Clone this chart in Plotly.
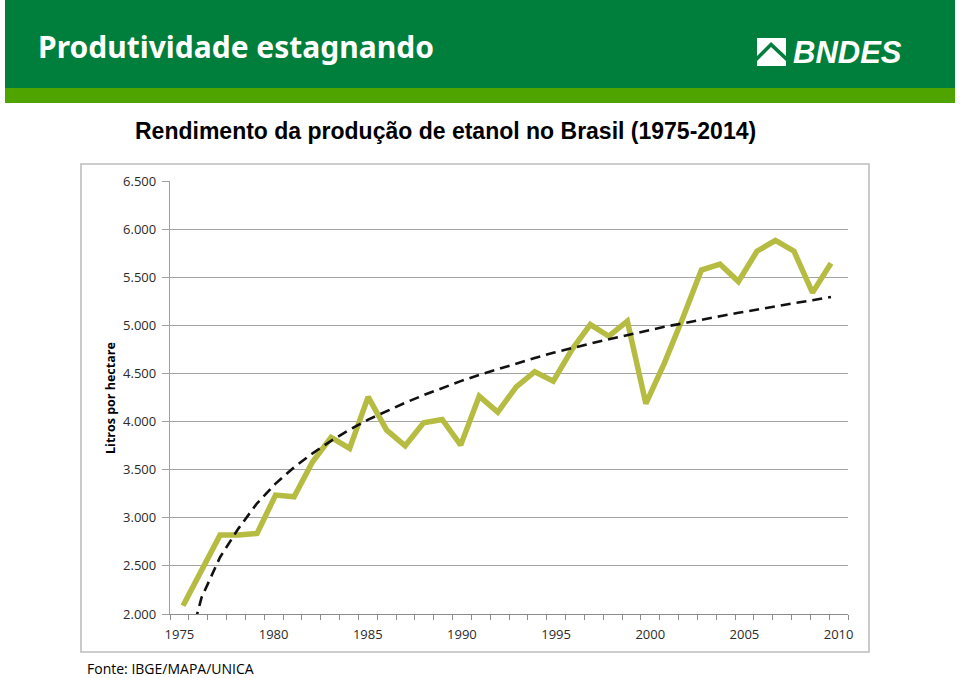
import plotly.graph_objects as go

# ---------------- data ----------------
years = list(range(1975, 2011))
yield_lph = [2086, 2450, 2820, 2820, 2838, 3236, 3218, 3582, 3835, 3721,
             4257, 3911, 3748, 3987, 4022, 3755, 4264, 4098, 4361, 4518,
             4420, 4746, 5008, 4887, 5043, 4186, 4607, 5078, 5575, 5637,
             5455, 5770, 5882, 5770, 5340, 5645]
trend_lph = [1440, 2170, 2590, 2890, 3150, 3355, 3525, 3670, 3800, 3915,
             4020, 4110, 4195, 4275, 4350, 4420, 4485, 4545, 4605, 4660,
             4715, 4765, 4810, 4855, 4900, 4940, 4985, 5020, 5060, 5095,
             5130, 5165, 5200, 5230, 5260, 5295]
x_label_years = [1975, 1980, 1985, 1990, 1995, 2000, 2005, 2010]
y_tick_vals = [2000, 2500, 3000, 3500, 4000, 4500, 5000, 5500, 6000, 6500]
y_tick_labels = ["2.000", "2.500", "3.000", "3.500", "4.000", "4.500",
                 "5.000", "5.500", "6.000", "6.500"]

header_title = "Produtividade estagnando"
chart_title = "Rendimento da produção de etanol no Brasil (1975-2014)"
y_title = "Litros por hectare"
source = "Fonte: IBGE/MAPA/UNICA"

# ---------------- geometry ----------------
W, H = 960, 678
L, R, T, B = 170, 848, 181, 614
PW, PH = R - L, B - T


def px(xp):
    return (xp - L) / PW


def py(yp):
    return (B - yp) / PH


GREEN_LINE = "#B6BC42"
DARK_GREEN = "#007E3B"
LIGHT_GREEN = "#4FA400"
GRID = "#A3A3A3"
TXT = "#2B2B2B"

fig = go.Figure()

fig.add_trace(go.Scatter(
    x=years, y=yield_lph, mode="lines",
    line=dict(color=GREEN_LINE, width=5.5),
    hoverinfo="skip", showlegend=False, xaxis="x", yaxis="y"))
fig.add_trace(go.Scatter(
    x=years, y=trend_lph, mode="lines",
    line=dict(color="#111111", width=2.6, dash="10px,6px"),
    hoverinfo="skip", showlegend=False, xaxis="x", yaxis="y"))
# invisible trace anchoring the category-style labelled axis
fig.add_trace(go.Scatter(
    x=[x_label_years[0], x_label_years[-1]], y=[None, None], mode="markers",
    marker=dict(opacity=0), hoverinfo="skip", showlegend=False,
    xaxis="x2", yaxis="y"))

# data axis: fitted to where the points sit in the reference
px_per_year = (831 - 183) / 35.0
x0 = 1975 - (183 - L) / px_per_year
x1 = 2010 + (R - 831) / px_per_year

shapes = [
    # header bands
    dict(type="rect", xref="paper", yref="paper", x0=px(5), x1=px(955),
         y0=py(88), y1=py(0), fillcolor=DARK_GREEN, line=dict(width=0), layer="below"),
    dict(type="rect", xref="paper", yref="paper", x0=px(5), x1=px(955),
         y0=py(103), y1=py(88), fillcolor=LIGHT_GREEN, line=dict(width=0), layer="below"),
    # chart frame
    dict(type="rect", xref="paper", yref="paper", x0=px(81), x1=px(869),
         y0=py(652), y1=py(164), fillcolor="rgba(0,0,0,0)",
         line=dict(color="#BDBDBD", width=1.6), layer="below"),
    # BNDES logo icon
    dict(type="rect", xref="paper", yref="paper", x0=px(757), x1=px(786),
         y0=py(66), y1=py(38), fillcolor="white", line=dict(width=0)),
]
# green chevron inside the icon
icon_path = "M {} {} L {} {} L {} {} L {} {} L {} {} L {} {} Z".format(
    px(757), py(56), px(771), py(42), px(786), py(56),
    px(786), py(61), px(771), py(47), px(757), py(61))
shapes.append(dict(type="path", xref="paper", yref="paper", path=icon_path,
                   fillcolor=DARK_GREEN, line=dict(width=0)))

annotations = [
    dict(text=header_title, xref="paper", yref="paper", x=px(36), y=py(47),
         xanchor="left", yanchor="middle", showarrow=False,
         font=dict(family="Noto Sans", size=30, color="white", weight="bold")),
    dict(text="<b><i>BNDES</i></b>", xref="paper", yref="paper", x=px(791), y=py(52),
         xanchor="left", yanchor="middle", showarrow=False,
         font=dict(family="Liberation Sans", size=31, color="white")),
    dict(text=chart_title, xref="paper", yref="paper", x=px(445), y=py(131),
         xanchor="center", yanchor="middle", showarrow=False,
         font=dict(family="Liberation Sans", size=23, color="black", weight="bold")),
    dict(text=y_title, xref="paper", yref="paper", x=px(110), y=py(398),
         xanchor="center", yanchor="middle", showarrow=False, textangle=-90,
         font=dict(family="Open Sans", size=12.5, color="black", weight="bold")),
    dict(text=source, xref="paper", yref="paper", x=px(85), y=py(668),
         xanchor="left", yanchor="middle", showarrow=False,
         font=dict(family="Open Sans", size=14, color="black")),
]

fig.update_layout(
    width=W, height=H,
    margin=dict(l=L, r=W - R, t=T, b=H - B, pad=0),
    paper_bgcolor="white", plot_bgcolor="white",
    showlegend=False,
    shapes=shapes, annotations=annotations,
    xaxis=dict(range=[x0, x1], showgrid=False, zeroline=False,
               showticklabels=False, ticks="", showline=False, fixedrange=True),
    xaxis2=dict(range=[1974.5, 2010.5], overlaying="x", side="bottom",
                anchor="y", showgrid=False, zeroline=False,
                tickmode="array", tickvals=x_label_years,
                ticktext=[str(v) for v in x_label_years],
                ticks="", ticklabelstandoff=8, fixedrange=True,
                showline=True, linecolor="#8C8C8C", linewidth=1.2,
                tickfont=dict(family="Open Sans", size=13, color=TXT),
                minor=dict(tickmode="linear", tick0=1974.5, dtick=1,
                           ticks="outside", ticklen=5, tickcolor="#8C8C8C",
                           tickwidth=1, showgrid=False)),
    yaxis=dict(range=[2000, 6500], tickmode="array", tickvals=y_tick_vals,
               ticktext=y_tick_labels, showgrid=True, gridcolor=GRID,
               gridwidth=1, zeroline=False, showline=True,
               linecolor="#A0A0A0", linewidth=1.2, ticks="outside",
               ticklen=7, tickcolor="#A0A0A0", ticklabelstandoff=3,
               tickfont=dict(family="Open Sans", size=13, color=TXT),
               fixedrange=True),
)

fig.write_html(
    "out.html",
    config={"displayModeBar": False, "staticPlot": True},
    post_script="document.body.style.margin='0';document.body.style.overflow='hidden';",
)
